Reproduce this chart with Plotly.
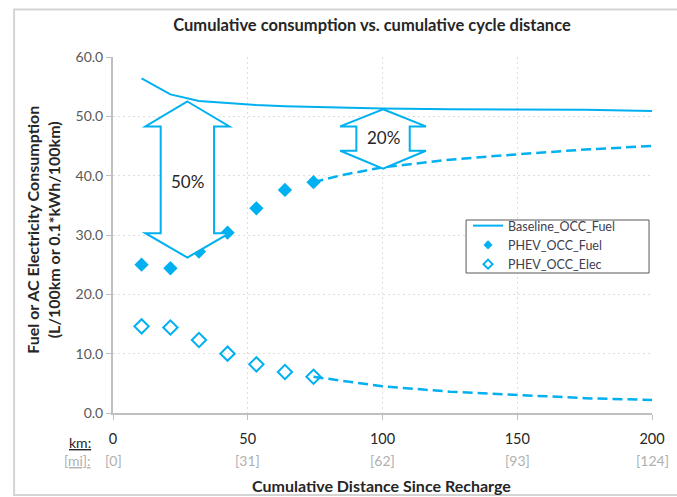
import plotly.graph_objects as go

# ---------------- data ----------------
baseline_km = [10.6, 21.3, 31.9, 42.5, 53.2, 63.8, 74.4, 100, 125, 150, 175, 200]
baseline_fuel = [56.4, 53.7, 52.6, 52.2, 51.9, 51.7, 51.6, 51.3, 51.2, 51.2, 51.1, 50.9]

phev_km = [10.6, 21.3, 31.9, 42.5, 53.2, 63.8, 74.4]
phev_fuel = [25.0, 24.4, 27.2, 30.4, 34.5, 37.6, 38.9]
phev_elec = [14.6, 14.4, 12.3, 10.0, 8.2, 6.9, 6.1]

proj_km = [74.4, 85, 100, 125, 150, 175, 200]
proj_fuel = [38.9, 40.1, 41.4, 42.7, 43.6, 44.4, 45.0]
proj_elec = [6.1, 5.4, 4.5, 3.6, 3.0, 2.5, 2.2]

km_ticks = [0, 50, 100, 150, 200]
mi_labels = ["[0]", "[31]", "[62]", "[93]", "[124]"]
y_ticks = [0, 10, 20, 30, 40, 50, 60]

# ---------------- style ----------------
BLUE = "#00B0F0"
FONT = "Lato"
W, H = 677, 497
L, R, T, B = 113, 19, 57, 84
PW, PH = W - L - R, H - T - B

def px2x(px):
    return (px - L) / PW

def py2y(py):
    return (H - B - py) / PH

fig = go.Figure()

# data traces (legend entries are drawn by the small proxy traces below)
fig.add_trace(go.Scatter(x=baseline_km, y=baseline_fuel, mode="lines",
                         name="Baseline_OCC_Fuel", showlegend=False,
                         line=dict(color=BLUE, width=2)))
fig.add_trace(go.Scatter(x=phev_km, y=phev_fuel, mode="markers",
                         name="PHEV_OCC_Fuel", showlegend=False,
                         marker=dict(symbol="diamond", size=11, color=BLUE)))
fig.add_trace(go.Scatter(x=phev_km, y=phev_elec, mode="markers",
                         name="PHEV_OCC_Elec", showlegend=False,
                         marker=dict(symbol="diamond-open", size=11, color=BLUE,
                                     line=dict(width=2, color=BLUE))))
fig.add_trace(go.Scatter(x=proj_km, y=proj_fuel, mode="lines", showlegend=False,
                         line=dict(color=BLUE, width=2.5, dash="10px,5px")))
fig.add_trace(go.Scatter(x=proj_km, y=proj_elec, mode="lines", showlegend=False,
                         line=dict(color=BLUE, width=2.5, dash="10px,5px")))

# legend proxies with small symbols, as in the original legend
fig.add_trace(go.Scatter(x=[None], y=[None], mode="lines", name="Baseline_OCC_Fuel",
                         line=dict(color=BLUE, width=2)))
fig.add_trace(go.Scatter(x=[None], y=[None], mode="markers", name="PHEV_OCC_Fuel",
                         marker=dict(symbol="diamond", size=7, color=BLUE)))
fig.add_trace(go.Scatter(x=[None], y=[None], mode="markers", name="PHEV_OCC_Elec",
                         marker=dict(symbol="diamond-open", size=7, color=BLUE,
                                     line=dict(width=2, color=BLUE))))

# double-headed block arrows (geometry in data units)
def block_arrow(xc, y_top, y_head, y_neck, y_bot, half_w, half_shaft):
    pts = [(xc, y_top), (xc + half_w, y_head), (xc + half_shaft, y_head),
           (xc + half_shaft, y_neck), (xc + half_w, y_neck), (xc, y_bot),
           (xc - half_w, y_neck), (xc - half_shaft, y_neck),
           (xc - half_shaft, y_head), (xc - half_w, y_head)]
    return "M " + " L ".join(f"{a},{b}" for a, b in pts) + " Z"

fig.add_shape(type="path", xref="x", yref="y",
              path=block_arrow(27.6, 52.5, 48.3, 30.3, 26.2, 15.6, 9.9),
              line=dict(color=BLUE, width=2), fillcolor="white", layer="above")
fig.add_shape(type="path", xref="x", yref="y",
              path=block_arrow(100.2, 51.2, 48.3, 44.2, 41.2, 15.9, 9.9),
              line=dict(color=BLUE, width=2), fillcolor="white", layer="above")

fig.add_annotation(x=27.6, y=39.1, xref="x", yref="y", text="50%", showarrow=False,
                   font=dict(family=FONT, size=17, color="#262626"))
fig.add_annotation(x=100.2, y=46.4, xref="x", yref="y", text="20%", showarrow=False,
                   font=dict(family=FONT, size=17, color="#262626"))

# legend frame (drawn as a shape so it can be wider than its entries)
fig.add_shape(type="rect", xref="paper", yref="paper",
              x0=px2x(470), x1=px2x(655), y0=py2y(273), y1=py2y(220),
              line=dict(color="#595959", width=1), fillcolor="white", layer="above")

# mile labels row
for v, t in zip(km_ticks, mi_labels):
    fig.add_annotation(x=v, y=py2y(461), xref="x", yref="paper", text=t,
                       showarrow=False, yanchor="middle",
                       font=dict(family=FONT, size=14, color="#b0b0b0"))
fig.add_annotation(x=px2x(93), y=py2y(442), xref="paper", yref="paper",
                   text="<u>km:</u>", showarrow=False, xanchor="right", yanchor="middle",
                   font=dict(family=FONT, size=14, color="#262626"))
fig.add_annotation(x=px2x(93), y=py2y(461), xref="paper", yref="paper",
                   text="<u>[mi]:</u>", showarrow=False, xanchor="right", yanchor="middle",
                   font=dict(family=FONT, size=14, color="#b0b0b0"))

# axis titles
fig.add_annotation(x=px2x(384), y=py2y(486), xref="paper", yref="paper",
                   text="<b>Cumulative Distance Since Recharge</b>", showarrow=False,
                   yanchor="middle", font=dict(family=FONT, size=16, color="#262626"))
fig.add_annotation(x=px2x(42), y=py2y(230), xref="paper", yref="paper",
                   text="<b>Fuel or AC Electricity Consumption<br>(L/100km or 0.1*kWh/100km)</b>",
                   showarrow=False, textangle=-90, xanchor="center", yanchor="middle",
                   font=dict(family=FONT, size=16, color="#262626"))

# outer chart border
fig.add_shape(type="rect", xref="paper", yref="paper",
              x0=px2x(13), x1=px2x(690), y0=py2y(495), y1=py2y(9.5),
              line=dict(color="#d4d4d4", width=2), fillcolor="rgba(0,0,0,0)", layer="below")

fig.update_layout(
    width=W, height=H,
    margin=dict(l=L, r=R, t=T, b=B),
    paper_bgcolor="white", plot_bgcolor="white",
    font=dict(family=FONT, color="#595959"),
    title=dict(text="<b>Cumulative consumption vs. cumulative cycle distance</b>",
               x=372 / W, xref="container", xanchor="center",
               y=1 - 25 / H, yref="container", yanchor="middle",
               font=dict(family=FONT, size=16.5, color="#262626")),
    showlegend=True,
    legend=dict(x=px2x(472), y=py2y(211), xanchor="left", yanchor="top",
                bgcolor="rgba(0,0,0,0)", borderwidth=0, itemsizing="trace",
                font=dict(family=FONT, size=12.5, color="#404050"),
                tracegroupgap=0, itemwidth=30),
    xaxis=dict(range=[0, 200], tickvals=km_ticks, ticktext=[str(v) for v in km_ticks],
               showgrid=True, gridcolor="#dedede", griddash="2px,3px", gridwidth=1,
               showline=True, linecolor="#bfbfbf", linewidth=2,
               ticks="outside", ticklen=5, tickcolor="#bfbfbf", tickwidth=1,
               ticklabelstandoff=7,
               tickfont=dict(family=FONT, size=14.5, color="#262626"),
               zeroline=False),
    yaxis=dict(range=[0, 60], tickvals=y_ticks, ticktext=[f"{v:.1f}" for v in y_ticks],
               showgrid=True, gridcolor="#dedede", griddash="2px,3px", gridwidth=1,
               showline=True, linecolor="#bfbfbf", linewidth=2,
               ticks="outside", ticklen=5, tickcolor="#bfbfbf", tickwidth=1,
               tickfont=dict(family=FONT, size=14, color="#595959"),
               zeroline=False),
)

fig.write_html("out.html")
